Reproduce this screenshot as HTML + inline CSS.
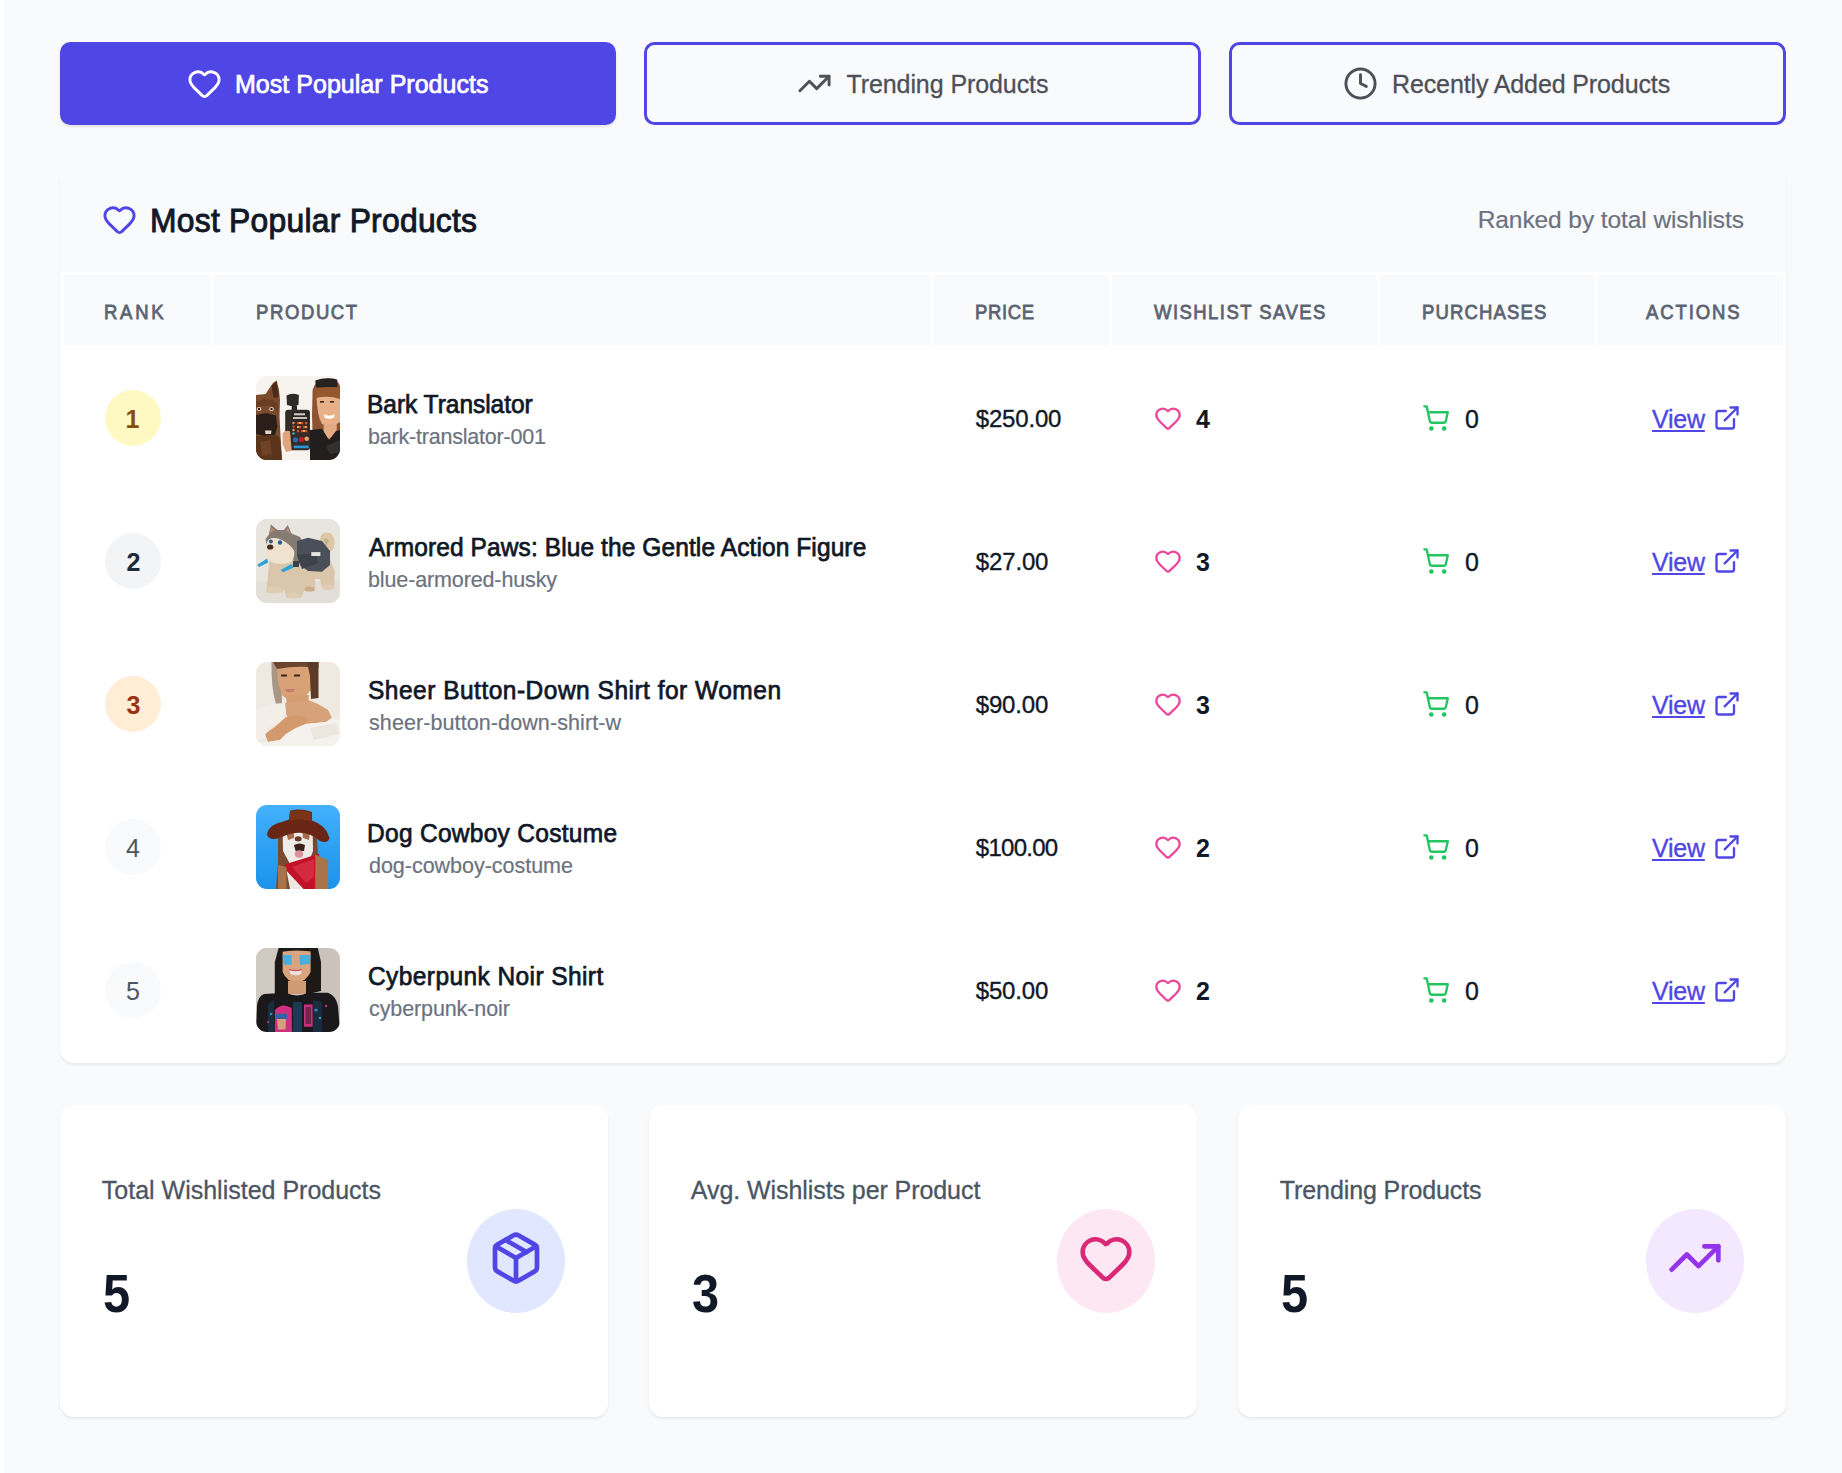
<!DOCTYPE html>
<html><head><meta charset="utf-8"><title>Most Popular Products</title>
<style>
html,body{margin:0;padding:0;}
body{width:1842px;height:1473px;overflow:hidden;position:relative;background:#f9fafb;font-family:"Liberation Sans", sans-serif;}
.b{position:absolute;}
.t{position:absolute;line-height:1;white-space:nowrap;}
.ic{position:absolute;overflow:visible;}
.pimg{position:absolute;overflow:hidden;display:block;}
</style></head><body>
<div class="b" style="left:0px;top:0px;width:4px;height:1473px;background:#fff;"></div>
<div class="b" style="left:60px;top:42px;width:556px;height:83px;background:#4f46e5;border-radius:10.5px;box-shadow:0 2px 3px rgba(0,0,0,0.09);"></div>
<div class="b" style="left:644px;top:42px;width:557px;height:83px;border:3px solid #4f46e5;border-radius:10.5px;box-sizing:border-box;"></div>
<div class="b" style="left:1229px;top:42px;width:557px;height:83px;border:3px solid #4f46e5;border-radius:10.5px;box-sizing:border-box;"></div>
<svg class="ic" style="left:186.5px;top:65.6px;width:35px;height:35px" viewBox="0 0 24 24" fill="none" stroke="#ffffff" stroke-width="2" stroke-linecap="round" stroke-linejoin="round"><path d="M2 9.5a5.5 5.5 0 0 1 9.591-3.676.56.56 0 0 0 .818 0A5.5 5.5 0 0 1 22 9.5c0 2.29-1.5 4-3 5.5l-5.492 5.313a2 2 0 0 1-3 .019L5 15c-1.5-1.5-3-3.2-3-5.5"/></svg>
<svg class="ic" style="left:797px;top:66px;width:35px;height:35px" viewBox="0 0 24 24" fill="none" stroke="#4d5058" stroke-width="2" stroke-linecap="round" stroke-linejoin="round"><polyline points="22 7 13.5 15.5 8.5 10.5 2 17"/><polyline points="16 7 22 7 22 13"/></svg>
<svg class="ic" style="left:1343px;top:65.7px;width:35px;height:35px" viewBox="0 0 24 24" fill="none" stroke="#4d5058" stroke-width="2" stroke-linecap="round" stroke-linejoin="round"><circle cx="12" cy="12" r="10"/><polyline points="12 6 12 12 16 14"/></svg>
<div class="b" style="left:60px;top:167px;width:1726px;height:896px;background:#fff;border-radius:14px;box-shadow:0 2px 3px rgba(0,0,0,0.07);"></div>
<div class="b" style="left:60px;top:167px;width:1726px;height:105px;background:#f9fafb;border-radius:14px 14px 0 0;"></div>
<svg class="ic" style="left:102px;top:201.6px;width:35px;height:35px" viewBox="0 0 24 24" fill="none" stroke="#4f46e5" stroke-width="2" stroke-linecap="round" stroke-linejoin="round"><path d="M2 9.5a5.5 5.5 0 0 1 9.591-3.676.56.56 0 0 0 .818 0A5.5 5.5 0 0 1 22 9.5c0 2.29-1.5 4-3 5.5l-5.492 5.313a2 2 0 0 1-3 .019L5 15c-1.5-1.5-3-3.2-3-5.5"/></svg>
<div class="b" style="left:63px;top:275px;width:148px;height:70px;background:#f9fafb;"></div>
<div class="b" style="left:214px;top:275px;width:716px;height:70px;background:#f9fafb;"></div>
<div class="b" style="left:933px;top:275px;width:176px;height:70px;background:#f9fafb;"></div>
<div class="b" style="left:1112px;top:275px;width:265px;height:70px;background:#f9fafb;"></div>
<div class="b" style="left:1380px;top:275px;width:215px;height:70px;background:#f9fafb;"></div>
<div class="b" style="left:1598px;top:275px;width:185px;height:70px;background:#f9fafb;"></div>
<div class="b" style="left:105px;top:390px;width:56px;height:56px;background:#fef9c3;border-radius:50%;"></div>
<svg class="pimg" style="left:256px;top:376px;width:84px;height:84px;border-radius:11px" viewBox="0 0 84 84" preserveAspectRatio="none"><rect width="84" height="84" fill="#f7f4f0"/>
<path d="M0 19 L9.6 18 L17 7 L20.7 4.5 L23 14 L24 24 L23.5 40 L24.5 60 L26 84 L0 84Z" fill="#7b4a2c"/>
<path d="M15.5 10 L20.5 5 L22.7 21 L17.5 22Z" fill="#4b2a18"/>
<path d="M0 26 L8 23 L16 24 L22 28 L22 36 L16 30 L6 30 L0 33Z" fill="#6a3c22"/>
<ellipse cx="3" cy="33" rx="2.3" ry="2" fill="#e8e0d6"/><ellipse cx="15.5" cy="33" rx="2.3" ry="2" fill="#e8e0d6"/>
<circle cx="3" cy="33" r="1.2" fill="#1a1410"/><circle cx="15.5" cy="33" r="1.2" fill="#1a1410"/>
<path d="M0 39 L10 37 L20 39.6 L21.4 50 L19 59 L8 60 L0 58Z" fill="#2a1e18"/>
<path d="M9 54.6 L15.5 54.6 L15 58 L9.5 58Z" fill="#e6d3c2"/>
<path d="M0 60 L20 59 L24 62 L26 84 L0 84Z" fill="#5b341c"/>
<path d="M4 66 L14 64 L16 78 L6 80Z" fill="#6e4226"/>
<path d="M30.5 19.5 Q36 16.5 42.9 19 L42.5 29 L37 30.5 L31 29Z" fill="#2e2a28"/>
<rect x="35.7" y="29.5" width="5.3" height="6" fill="#2b2725"/>
<rect x="29.2" y="33.8" width="24.8" height="40.4" rx="3" fill="#302c2a"/>
<rect x="35.7" y="35.7" width="17" height="9.2" fill="#2a2624"/>
<rect x="38" y="37.3" width="11" height="2" fill="#d8d0c8"/><rect x="37" y="41" width="14" height="2" fill="#c8beb5"/>
<rect x="36.4" y="44.9" width="16.3" height="14.9" fill="#3a2a26"/>
<g fill="#d8502c"><rect x="41" y="46" width="2.2" height="2.2"/><rect x="45" y="46" width="2.2" height="2.2"/><rect x="49" y="46" width="2.2" height="2.2"/><rect x="43" y="50" width="2.2" height="2.2"/><rect x="47" y="50" width="2.2" height="2.2"/><rect x="41" y="54" width="2.2" height="2.2"/><rect x="45" y="54" width="2.2" height="2.2"/><rect x="49" y="54" width="2.2" height="2.2"/></g>
<g fill="#f0b040"><rect x="43" y="46" width="2" height="2"/><rect x="49" y="50" width="2" height="2"/><rect x="47" y="54" width="2" height="2"/><rect x="41" y="50" width="2" height="2"/></g>
<circle cx="37.5" cy="47" r="1.2" fill="#e89a40"/><circle cx="37.5" cy="50.5" r="1.2" fill="#d04a2a"/><circle cx="37.5" cy="54" r="1.2" fill="#e8a040"/><circle cx="37.5" cy="57.5" r="1.2" fill="#3aa8d8"/>
<circle cx="39.6" cy="63.8" r="2.6" fill="#2a6aa8"/><circle cx="45.5" cy="63.5" r="2.6" fill="#c01f2e"/><circle cx="50.7" cy="62.8" r="2.3" fill="#eea060"/>
<rect x="37.7" y="69.6" width="15" height="2.6" fill="#2a98d6"/>
<path d="M26.6 57 Q30 53.5 34 55.3 L35.7 74.8 L30 76 L26.6 68Z" fill="#e0a47c"/>
<path d="M56.6 14 Q60 2 72 2.5 Q82 3 84 10 L84 72 L57 72 L56 40Z" fill="#8c5331"/>
<path d="M59.2 4.5 Q70 0.5 81.4 3.5 L81.4 11 L60 11.5Z" fill="#262220"/>
<path d="M60.5 20 Q70 17 84 19 L84 46 Q76 52 66 48 Q61 40 60.5 20Z" fill="#e8b088"/>
<path d="M59 13 Q70 10 84 12 L84 23 Q72 19 60 22Z" fill="#94582f"/>
<rect x="64" y="25" width="4" height="1.6" fill="#3a2518"/><rect x="74" y="25" width="4" height="1.6" fill="#3a2518"/>
<path d="M67.7 38.3 Q73 41 78.7 38.3 L78 41.5 Q73 44 68.5 41.5Z" fill="#ffffff"/>
<path d="M67.7 48 L80.7 48 L80.7 62.5 L67.7 62.5Z" fill="#e2ab84"/>
<path d="M54 54 L66 52.7 L73 64 L80 55 L84 54 L84 84 L54 84Z" fill="#221e1d"/>
<path d="M70 70 L84 64 L84 76 L74 78Z" fill="#34302e"/></svg>
<svg class="ic" style="left:1154px;top:404px;width:28px;height:28px" viewBox="0 0 24 24" fill="none" stroke="#ec4899" stroke-width="2" stroke-linecap="round" stroke-linejoin="round"><path d="M2 9.5a5.5 5.5 0 0 1 9.591-3.676.56.56 0 0 0 .818 0A5.5 5.5 0 0 1 22 9.5c0 2.29-1.5 4-3 5.5l-5.492 5.313a2 2 0 0 1-3 .019L5 15c-1.5-1.5-3-3.2-3-5.5"/></svg>
<svg class="ic" style="left:1422px;top:404px;width:28px;height:28px" viewBox="0 0 24 24" fill="none" stroke="#22c55e" stroke-width="2" stroke-linecap="round" stroke-linejoin="round"><circle cx="8" cy="21" r="1"/><circle cx="19" cy="21" r="1"/><path d="M2.05 2.05h2l2.66 12.42a2 2 0 0 0 2 1.58h9.78a2 2 0 0 0 1.95-1.57l1.65-7.43H5.12"/></svg>
<svg class="ic" style="left:1713px;top:403.7px;width:28px;height:28px" viewBox="0 0 24 24" fill="none" stroke="#4f46e5" stroke-width="2" stroke-linecap="round" stroke-linejoin="round"><path d="M15 3h6v6"/><path d="M10 14 21 3"/><path d="M18 13v6a2 2 0 0 1-2 2H5a2 2 0 0 1-2-2V8a2 2 0 0 1 2-2h6"/></svg>
<div class="b" style="left:105px;top:533px;width:56px;height:56px;background:#f3f4f6;border-radius:50%;"></div>
<svg class="pimg" style="left:256px;top:519px;width:84px;height:84px;border-radius:11px" viewBox="0 0 84 84" preserveAspectRatio="none"><rect width="84" height="84" fill="#e8e4de"/>
<rect y="62" width="84" height="22" fill="#e3ded7"/>
<path d="M63.8 22 Q64 13.6 71 13.6 Q78.7 14 78.7 24 Q78 33 72 33 L66 32Z" fill="#dcc8a8"/>
<path d="M67.5 20 Q71 18 73 22 L70 28Z" fill="#c8b08e"/>
<path d="M13.6 40 Q20 33 30 34 L46 33 L74 40 L78.7 52 L78 70 L66.4 70 L64 60 L59 60 L59 72 L48 72 L45 78.7 L30.5 78.7 L28 70 L26.6 73.5 L10.3 73.5 L12 56Z" fill="#dac7ab"/>
<path d="M34 14 L44 18 L50 30 L48 44 L38 44 L36 30Z" fill="#837a72"/>
<ellipse cx="18" cy="71" rx="8" ry="3.5" fill="#e0cdb2"/><ellipse cx="37.5" cy="76.5" rx="7" ry="3" fill="#e0cdb2"/><ellipse cx="72" cy="68" rx="6" ry="3" fill="#e0cdb2"/><ellipse cx="53.5" cy="70" rx="5" ry="2.6" fill="#c9ad8c"/>
<path d="M9.6 20 L12.9 15.5 L14.9 5.4 L21.4 11 L27.9 11 L31.8 6.1 L36.4 16.8 L39.6 26 L38 38 L30 40 L12 38Z" fill="#857b72"/>
<path d="M13.5 14 L15 7.5 L19 11.5Z" fill="#b98878"/><path d="M30 11.5 L31.6 8 L34.5 15Z" fill="#b98878"/>
<path d="M9.6 30 Q10 20 16 19 Q22 18.5 26 21 Q34 25 38.3 32 Q39 40 34 43.5 Q22 47 13 42 Q9 37 9.6 30Z" fill="#efe3d0"/>
<circle cx="14.9" cy="22.5" r="2" fill="#2f6090"/><circle cx="24" cy="23.5" r="2.2" fill="#2f6090"/>
<ellipse cx="14.2" cy="28" rx="3.2" ry="2.6" fill="#4a2c22"/>
<path d="M41 22 L52 18.8 L66 22 L74 32 L74 46 L66 52.7 L52 52 L44 46 L41 36Z" fill="#4a5059"/>
<path d="M41 36 L60 34 L62 44 L46 50Z" fill="#3c424a"/>
<rect x="55.3" y="33.1" width="9.1" height="3.9" fill="#e4e4e4"/>
<path d="M1.2 46 L11 39.6 L12.3 43.5 L3 48Z" fill="#2ba3d4"/><path d="M24.6 51 L35.5 44.9 L37.7 48.5 L27 53.3Z" fill="#2ba3d4"/>
<rect x="37" y="42" width="6" height="6" fill="#3a4048"/></svg>
<svg class="ic" style="left:1154px;top:547px;width:28px;height:28px" viewBox="0 0 24 24" fill="none" stroke="#ec4899" stroke-width="2" stroke-linecap="round" stroke-linejoin="round"><path d="M2 9.5a5.5 5.5 0 0 1 9.591-3.676.56.56 0 0 0 .818 0A5.5 5.5 0 0 1 22 9.5c0 2.29-1.5 4-3 5.5l-5.492 5.313a2 2 0 0 1-3 .019L5 15c-1.5-1.5-3-3.2-3-5.5"/></svg>
<svg class="ic" style="left:1422px;top:547px;width:28px;height:28px" viewBox="0 0 24 24" fill="none" stroke="#22c55e" stroke-width="2" stroke-linecap="round" stroke-linejoin="round"><circle cx="8" cy="21" r="1"/><circle cx="19" cy="21" r="1"/><path d="M2.05 2.05h2l2.66 12.42a2 2 0 0 0 2 1.58h9.78a2 2 0 0 0 1.95-1.57l1.65-7.43H5.12"/></svg>
<svg class="ic" style="left:1713px;top:546.7px;width:28px;height:28px" viewBox="0 0 24 24" fill="none" stroke="#4f46e5" stroke-width="2" stroke-linecap="round" stroke-linejoin="round"><path d="M15 3h6v6"/><path d="M10 14 21 3"/><path d="M18 13v6a2 2 0 0 1-2 2H5a2 2 0 0 1-2-2V8a2 2 0 0 1 2-2h6"/></svg>
<div class="b" style="left:105px;top:676px;width:56px;height:56px;background:#ffedd5;border-radius:50%;"></div>
<svg class="pimg" style="left:256px;top:662px;width:84px;height:84px;border-radius:11px" viewBox="0 0 84 84" preserveAspectRatio="none"><rect width="84" height="84" fill="#efe9e2"/>
<path d="M15.5 0 L25.3 0 L26 42 L20 42 Q15 26 15.5 0Z" fill="#a89686"/>
<path d="M21 2 L55 2 L55 28 L48 36 L33 39 L26 33 L22 20Z" fill="#d8a276"/>
<path d="M17 0 L62.5 0 L62.5 6 Q42 3 21 7Z" fill="#6b4530"/>
<path d="M51 0 L62.5 0 L62.5 36 L55 37 L54 14Z" fill="#5a3a28"/>
<rect x="25" y="12.5" width="6" height="2" fill="#3b2a20"/><rect x="38" y="12.5" width="6" height="2" fill="#3b2a20"/>
<path d="M29 27 L39 27 L37.5 30 L30.5 30Z" fill="#c47e6a"/>
<path d="M30.5 33 L52.7 33 L52.7 49 L30.5 49Z" fill="#d49d72"/>
<path d="M29 41 L52 38 L62 42 L72 48 L76 56 L70 60 L50 62 L36 62 L30 52Z" fill="#d7a27a"/>
<path d="M9 72 L20 64 L30 55 L42 53 L52 56 L50 62 L40 66 L30 72 L24 78 L12 80Z" fill="#d49a6e"/>
<path d="M0 48 L14 42 L29 41 L30 52 L24 60 L12 66 L8 76 L0 80Z" fill="#f3eee8"/>
<path d="M0 80 L12 80 L24 78 L30 72 L40 66 L50 62 L70 60 L76 56 L84 58 L84 84 L0 84Z" fill="#f5f1ec"/>
<path d="M54 66 L80 61 L84 72 L58 78Z" fill="#ece6de"/></svg>
<svg class="ic" style="left:1154px;top:690px;width:28px;height:28px" viewBox="0 0 24 24" fill="none" stroke="#ec4899" stroke-width="2" stroke-linecap="round" stroke-linejoin="round"><path d="M2 9.5a5.5 5.5 0 0 1 9.591-3.676.56.56 0 0 0 .818 0A5.5 5.5 0 0 1 22 9.5c0 2.29-1.5 4-3 5.5l-5.492 5.313a2 2 0 0 1-3 .019L5 15c-1.5-1.5-3-3.2-3-5.5"/></svg>
<svg class="ic" style="left:1422px;top:690px;width:28px;height:28px" viewBox="0 0 24 24" fill="none" stroke="#22c55e" stroke-width="2" stroke-linecap="round" stroke-linejoin="round"><circle cx="8" cy="21" r="1"/><circle cx="19" cy="21" r="1"/><path d="M2.05 2.05h2l2.66 12.42a2 2 0 0 0 2 1.58h9.78a2 2 0 0 0 1.95-1.57l1.65-7.43H5.12"/></svg>
<svg class="ic" style="left:1713px;top:689.7px;width:28px;height:28px" viewBox="0 0 24 24" fill="none" stroke="#4f46e5" stroke-width="2" stroke-linecap="round" stroke-linejoin="round"><path d="M15 3h6v6"/><path d="M10 14 21 3"/><path d="M18 13v6a2 2 0 0 1-2 2H5a2 2 0 0 1-2-2V8a2 2 0 0 1 2-2h6"/></svg>
<div class="b" style="left:105px;top:819px;width:56px;height:56px;background:#f9fafb;border-radius:50%;"></div>
<svg class="pimg" style="left:256px;top:805px;width:84px;height:84px;border-radius:11px" viewBox="0 0 84 84" preserveAspectRatio="none"><defs><linearGradient id="g4" x1="0" y1="0" x2="0" y2="1"><stop offset="0" stop-color="#43b0fb"/><stop offset="1" stop-color="#1a93ec"/></linearGradient></defs>
<rect width="84" height="84" fill="url(#g4)"/>
<path d="M22 28 L60.5 26 L62 50 L66 84 L20 84 L22 56Z" fill="#7a4a2e"/>
<path d="M26.6 22 L56.6 22 L57 46 L52 59 L34 59 L27 46Z" fill="#efebe7"/>
<path d="M30 26 L38 24 L38 33 L32 35Z" fill="#a86c4c"/><path d="M46 24 L54 26 L53 35 L47 33Z" fill="#a86c4c"/>
<ellipse cx="42.2" cy="33.8" rx="3.5" ry="2.6" fill="#6a3a2a"/>
<path d="M38 40 Q43.5 37 49 40 L48 46 L39.6 46Z" fill="#3a2018"/>
<ellipse cx="43" cy="49" rx="4.2" ry="3.8" fill="#d8909a"/>
<path d="M30.5 65.7 L34 84 L52.7 84 L50 66Z" fill="#ece8e4"/>
<path d="M29.2 59.2 L63.1 48.8 L63.1 75.5 L59.2 84 L47.5 84 L30.5 65.7Z" fill="#c2122a"/>
<path d="M36 62 L58 54 L58 72 L50 78Z" fill="#d42a40"/>
<path d="M59.2 49.4 L72.2 55 L72.2 84 L59.2 84Z" fill="#a9744c"/>
<path d="M22 60 L30.5 62 L30.5 84 L22 84Z" fill="#a9744c"/>
<path d="M11 30 Q12 20 26 17 L33 14.5 L34 5.7 Q45 3 56 7 L56 15.5 Q70 20 73.5 33 Q72 39 64 36 Q48 22 26 32 Q14 37 11 30Z" fill="#6a2614"/>
<path d="M34 6.5 Q45 3.5 55.5 8 L55.5 16 Q45 13 34 16Z" fill="#7b3318"/></svg>
<svg class="ic" style="left:1154px;top:833px;width:28px;height:28px" viewBox="0 0 24 24" fill="none" stroke="#ec4899" stroke-width="2" stroke-linecap="round" stroke-linejoin="round"><path d="M2 9.5a5.5 5.5 0 0 1 9.591-3.676.56.56 0 0 0 .818 0A5.5 5.5 0 0 1 22 9.5c0 2.29-1.5 4-3 5.5l-5.492 5.313a2 2 0 0 1-3 .019L5 15c-1.5-1.5-3-3.2-3-5.5"/></svg>
<svg class="ic" style="left:1422px;top:833px;width:28px;height:28px" viewBox="0 0 24 24" fill="none" stroke="#22c55e" stroke-width="2" stroke-linecap="round" stroke-linejoin="round"><circle cx="8" cy="21" r="1"/><circle cx="19" cy="21" r="1"/><path d="M2.05 2.05h2l2.66 12.42a2 2 0 0 0 2 1.58h9.78a2 2 0 0 0 1.95-1.57l1.65-7.43H5.12"/></svg>
<svg class="ic" style="left:1713px;top:832.7px;width:28px;height:28px" viewBox="0 0 24 24" fill="none" stroke="#4f46e5" stroke-width="2" stroke-linecap="round" stroke-linejoin="round"><path d="M15 3h6v6"/><path d="M10 14 21 3"/><path d="M18 13v6a2 2 0 0 1-2 2H5a2 2 0 0 1-2-2V8a2 2 0 0 1 2-2h6"/></svg>
<div class="b" style="left:105px;top:962px;width:56px;height:56px;background:#f9fafb;border-radius:50%;"></div>
<svg class="pimg" style="left:256px;top:948px;width:84px;height:84px;border-radius:11px" viewBox="0 0 84 84" preserveAspectRatio="none"><rect width="84" height="84" fill="#cbc3bb"/>
<rect width="20" height="84" fill="#d1cac3"/>
<path d="M18.8 14 L22.7 0 L61.8 0 L65 14 L65 43 L52 46 L30 46 L30.5 59 L18.8 59Z" fill="#1c1917"/>
<path d="M26.6 3 Q40 0 54.6 3 L54.6 24 Q50 34 40.5 34.4 Q31 34 26.6 24Z" fill="#d9a47e"/>
<path d="M24 0 L60 0 L60 4 Q40 1 24 4Z" fill="#1c1917"/>
<path d="M26.6 7 L35.7 7 L35.7 16.8 L28 16.8Z" fill="#4aaedc"/><path d="M43.5 7 L54.6 7 L53.5 16 L44 16.8Z" fill="#4aaedc"/>
<path d="M33 21.4 Q40 25 46 21.4 L45 26 Q40 28.5 34.5 26Z" fill="#f0e4de"/>
<path d="M33 21 Q40 23 46 21 L46 22.3 Q40 24 33 22.3Z" fill="#c8506a"/>
<path d="M32 33 L50 33 L50 46 L32 46Z" fill="#d09a76"/>
<path d="M0 84 L1 58 Q2 48 8 46 L30 44.8 Q41 50 52 44.8 L72 44.8 Q80 48 82 58 L84 84Z" fill="#1a181a"/>
<path d="M18.8 84 L19 62 Q26 54 35.7 60 L36 84Z" fill="#cf2f7e"/>
<path d="M20 65.7 L31 65.7 L31 71 L20 71Z" fill="#3262a8"/>
<path d="M21 71 L30 71 L29.5 81.4 L22 81.4Z" fill="#d6a07c"/>
<path d="M48 56.6 L56.6 56.6 L56.6 78.7 L48 78.7Z" fill="#c8327d"/>
<path d="M49.5 59 L55 59 L55 76 L49.5 76Z" fill="#1a181a" opacity="0.5"/>
<path d="M37 54 L46 54 L46 84 L37 84Z" fill="#1f4f7a" opacity="0.6"/>
<path d="M12 56 L18 52 L18 84 L12 84Z" fill="#1b3a58" opacity="0.6"/><path d="M57 52 L66 54 L66 84 L57 84Z" fill="#1b3a58" opacity="0.6"/>
<circle cx="60" cy="62" r="1.6" fill="#2e8cc8"/><circle cx="64" cy="70" r="1.3" fill="#2e8cc8"/><circle cx="15" cy="66" r="1.3" fill="#2e8cc8"/><circle cx="70" cy="58" r="1.3" fill="#b03070"/><circle cx="12" cy="74" r="1.2" fill="#b03070"/></svg>
<svg class="ic" style="left:1154px;top:976px;width:28px;height:28px" viewBox="0 0 24 24" fill="none" stroke="#ec4899" stroke-width="2" stroke-linecap="round" stroke-linejoin="round"><path d="M2 9.5a5.5 5.5 0 0 1 9.591-3.676.56.56 0 0 0 .818 0A5.5 5.5 0 0 1 22 9.5c0 2.29-1.5 4-3 5.5l-5.492 5.313a2 2 0 0 1-3 .019L5 15c-1.5-1.5-3-3.2-3-5.5"/></svg>
<svg class="ic" style="left:1422px;top:976px;width:28px;height:28px" viewBox="0 0 24 24" fill="none" stroke="#22c55e" stroke-width="2" stroke-linecap="round" stroke-linejoin="round"><circle cx="8" cy="21" r="1"/><circle cx="19" cy="21" r="1"/><path d="M2.05 2.05h2l2.66 12.42a2 2 0 0 0 2 1.58h9.78a2 2 0 0 0 1.95-1.57l1.65-7.43H5.12"/></svg>
<svg class="ic" style="left:1713px;top:975.7px;width:28px;height:28px" viewBox="0 0 24 24" fill="none" stroke="#4f46e5" stroke-width="2" stroke-linecap="round" stroke-linejoin="round"><path d="M15 3h6v6"/><path d="M10 14 21 3"/><path d="M18 13v6a2 2 0 0 1-2 2H5a2 2 0 0 1-2-2V8a2 2 0 0 1 2-2h6"/></svg>
<div class="b" style="left:60px;top:1105px;width:548px;height:312px;background:#fff;border-radius:14px;box-shadow:0 2px 3px rgba(0,0,0,0.07);"></div>
<div class="b" style="left:467px;top:1209px;width:98px;height:104px;background:#e0e7ff;border-radius:50%;"></div>
<svg class="ic" style="left:488px;top:1230px;width:56px;height:56px" viewBox="0 0 24 24" fill="none" stroke="#4f46e5" stroke-width="2" stroke-linecap="round" stroke-linejoin="round"><path d="m7.5 4.27 9 5.15"/><path d="M21 8a2 2 0 0 0-1-1.73l-7-4a2 2 0 0 0-2 0l-7 4A2 2 0 0 0 3 8v8a2 2 0 0 0 1 1.73l7 4a2 2 0 0 0 2 0l7-4A2 2 0 0 0 21 16Z"/><path d="m3.3 7 8.7 5 8.7-5"/><path d="M12 22V12"/></svg>
<div class="b" style="left:649px;top:1105px;width:548px;height:312px;background:#fff;border-radius:14px;box-shadow:0 2px 3px rgba(0,0,0,0.07);"></div>
<div class="b" style="left:1057px;top:1209px;width:98px;height:104px;background:#fce7f3;border-radius:50%;"></div>
<svg class="ic" style="left:1078px;top:1230px;width:56px;height:56px" viewBox="0 0 24 24" fill="none" stroke="#db2777" stroke-width="2" stroke-linecap="round" stroke-linejoin="round"><path d="M2 9.5a5.5 5.5 0 0 1 9.591-3.676.56.56 0 0 0 .818 0A5.5 5.5 0 0 1 22 9.5c0 2.29-1.5 4-3 5.5l-5.492 5.313a2 2 0 0 1-3 .019L5 15c-1.5-1.5-3-3.2-3-5.5"/></svg>
<div class="b" style="left:1238px;top:1105px;width:548px;height:312px;background:#fff;border-radius:14px;box-shadow:0 2px 3px rgba(0,0,0,0.07);"></div>
<div class="b" style="left:1646px;top:1209px;width:98px;height:104px;background:#f3e8ff;border-radius:50%;"></div>
<svg class="ic" style="left:1667px;top:1230px;width:56px;height:56px" viewBox="0 0 24 24" fill="none" stroke="#9333ea" stroke-width="2" stroke-linecap="round" stroke-linejoin="round"><polyline points="22 7 13.5 15.5 8.5 10.5 2 17"/><polyline points="16 7 22 7 22 13"/></svg>
<div class="t" style="left:235.00px;top:71.64px;font-size:25px;font-weight:400;color:#ffffff;letter-spacing:0.030px;-webkit-text-stroke:0.7px #fff;">Most Popular Products</div>
<div class="t" style="left:846.40px;top:71.64px;font-size:25px;font-weight:400;color:#4d5058;letter-spacing:-0.078px;-webkit-text-stroke:0.3px #4d5058;">Trending Products</div>
<div class="t" style="left:1392.00px;top:71.64px;font-size:25px;font-weight:400;color:#4d5058;letter-spacing:-0.118px;-webkit-text-stroke:0.3px #4d5058;">Recently Added Products</div>
<div class="t" style="left:149.80px;top:204.34px;font-size:33.5px;font-weight:400;color:#111827;letter-spacing:0.267px;transform:scaleX(0.95);transform-origin:0 0;-webkit-text-stroke:0.95px #111827;">Most Popular Products</div>
<div class="t" style="left:1477.70px;top:207.76px;font-size:24.5px;font-weight:400;color:#6b7280;letter-spacing:-0.084px;-webkit-text-stroke:0.2px #6b7280;">Ranked by total wishlists</div>
<div class="t" style="left:104.22px;top:301.42px;font-size:21px;font-weight:400;color:#5b6473;letter-spacing:3.122px;transform:scaleX(0.88);transform-origin:0 0;-webkit-text-stroke:0.85px #5b6473;">RANK</div>
<div class="t" style="left:256.12px;top:301.42px;font-size:21px;font-weight:400;color:#5b6473;letter-spacing:1.848px;transform:scaleX(0.88);transform-origin:0 0;-webkit-text-stroke:0.85px #5b6473;">PRODUCT</div>
<div class="t" style="left:974.82px;top:301.42px;font-size:21px;font-weight:400;color:#5b6473;letter-spacing:0.713px;transform:scaleX(0.88);transform-origin:0 0;-webkit-text-stroke:0.85px #5b6473;">PRICE</div>
<div class="t" style="left:1154.00px;top:301.42px;font-size:21px;font-weight:400;color:#5b6473;letter-spacing:1.664px;transform:scaleX(0.88);transform-origin:0 0;-webkit-text-stroke:0.85px #5b6473;">WISHLIST SAVES</div>
<div class="t" style="left:1421.72px;top:301.42px;font-size:21px;font-weight:400;color:#5b6473;letter-spacing:1.317px;transform:scaleX(0.88);transform-origin:0 0;-webkit-text-stroke:0.85px #5b6473;">PURCHASES</div>
<div class="t" style="left:1646.40px;top:301.42px;font-size:21px;font-weight:400;color:#5b6473;letter-spacing:2.172px;transform:scaleX(0.88);transform-origin:0 0;-webkit-text-stroke:0.85px #5b6473;">ACTIONS</div>
<div class="t" style="left:125.50px;top:406.84px;font-size:25px;font-weight:700;color:#854d0e;">1</div>
<div class="t" style="left:367.10px;top:392.36px;font-size:25.8px;font-weight:400;color:#111827;letter-spacing:-0.030px;transform:scaleX(0.95);transform-origin:0 0;-webkit-text-stroke:0.75px #111827;">Bark Translator</div>
<div class="t" style="left:368.00px;top:426.80px;font-size:21.5px;font-weight:400;color:#6b7280;letter-spacing:-0.204px;-webkit-text-stroke:0.2px #6b7280;">bark-translator-001</div>
<div class="t" style="left:975.80px;top:407.18px;font-size:24px;font-weight:400;color:#111827;letter-spacing:-0.184px;-webkit-text-stroke:0.35px #111827;">$250.00</div>
<div class="t" style="left:1196.00px;top:406.84px;font-size:25px;font-weight:700;color:#111827;">4</div>
<div class="t" style="left:1465.00px;top:406.54px;font-size:25px;font-weight:400;color:#111827;-webkit-text-stroke:0.35px #111827;">0</div>
<div class="t" style="left:1652.00px;top:406.84px;font-size:25px;font-weight:400;color:#4f46e5;letter-spacing:-0.227px;-webkit-text-stroke:0.35px #4f46e5;text-decoration:underline;text-decoration-thickness:2px;text-underline-offset:2px;">View</div>
<div class="t" style="left:126.50px;top:549.84px;font-size:25px;font-weight:700;color:#1e293b;">2</div>
<div class="t" style="left:369.00px;top:535.36px;font-size:25.8px;font-weight:400;color:#111827;letter-spacing:0.104px;transform:scaleX(0.95);transform-origin:0 0;-webkit-text-stroke:0.75px #111827;">Armored Paws: Blue the Gentle Action Figure</div>
<div class="t" style="left:368.00px;top:569.80px;font-size:21.5px;font-weight:400;color:#6b7280;letter-spacing:-0.126px;-webkit-text-stroke:0.2px #6b7280;">blue-armored-husky</div>
<div class="t" style="left:975.80px;top:550.18px;font-size:24px;font-weight:400;color:#111827;letter-spacing:-0.152px;-webkit-text-stroke:0.35px #111827;">$27.00</div>
<div class="t" style="left:1196.00px;top:549.84px;font-size:25px;font-weight:700;color:#111827;">3</div>
<div class="t" style="left:1465.00px;top:549.54px;font-size:25px;font-weight:400;color:#111827;-webkit-text-stroke:0.35px #111827;">0</div>
<div class="t" style="left:1652.00px;top:549.84px;font-size:25px;font-weight:400;color:#4f46e5;letter-spacing:-0.227px;-webkit-text-stroke:0.35px #4f46e5;text-decoration:underline;text-decoration-thickness:2px;text-underline-offset:2px;">View</div>
<div class="t" style="left:126.50px;top:692.84px;font-size:25px;font-weight:700;color:#9a3412;">3</div>
<div class="t" style="left:368.05px;top:678.36px;font-size:25.8px;font-weight:400;color:#111827;letter-spacing:0.518px;transform:scaleX(0.95);transform-origin:0 0;-webkit-text-stroke:0.75px #111827;">Sheer Button-Down Shirt for Women</div>
<div class="t" style="left:369.00px;top:712.80px;font-size:21.5px;font-weight:400;color:#6b7280;letter-spacing:0.095px;-webkit-text-stroke:0.2px #6b7280;">sheer-button-down-shirt-w</div>
<div class="t" style="left:975.80px;top:693.18px;font-size:24px;font-weight:400;color:#111827;letter-spacing:-0.192px;-webkit-text-stroke:0.35px #111827;">$90.00</div>
<div class="t" style="left:1196.00px;top:692.84px;font-size:25px;font-weight:700;color:#111827;">3</div>
<div class="t" style="left:1465.00px;top:692.54px;font-size:25px;font-weight:400;color:#111827;-webkit-text-stroke:0.35px #111827;">0</div>
<div class="t" style="left:1652.00px;top:692.84px;font-size:25px;font-weight:400;color:#4f46e5;letter-spacing:-0.227px;-webkit-text-stroke:0.35px #4f46e5;text-decoration:underline;text-decoration-thickness:2px;text-underline-offset:2px;">View</div>
<div class="t" style="left:126.00px;top:835.84px;font-size:25px;font-weight:400;color:#4b5563;">4</div>
<div class="t" style="left:367.10px;top:821.36px;font-size:25.8px;font-weight:400;color:#111827;letter-spacing:0.300px;transform:scaleX(0.95);transform-origin:0 0;-webkit-text-stroke:0.75px #111827;">Dog Cowboy Costume</div>
<div class="t" style="left:369.00px;top:855.80px;font-size:21.5px;font-weight:400;color:#6b7280;letter-spacing:-0.023px;-webkit-text-stroke:0.2px #6b7280;">dog-cowboy-costume</div>
<div class="t" style="left:975.80px;top:836.18px;font-size:24px;font-weight:400;color:#111827;letter-spacing:-0.734px;-webkit-text-stroke:0.35px #111827;">$100.00</div>
<div class="t" style="left:1196.00px;top:835.84px;font-size:25px;font-weight:700;color:#111827;">2</div>
<div class="t" style="left:1465.00px;top:835.54px;font-size:25px;font-weight:400;color:#111827;-webkit-text-stroke:0.35px #111827;">0</div>
<div class="t" style="left:1652.00px;top:835.84px;font-size:25px;font-weight:400;color:#4f46e5;letter-spacing:-0.227px;-webkit-text-stroke:0.35px #4f46e5;text-decoration:underline;text-decoration-thickness:2px;text-underline-offset:2px;">View</div>
<div class="t" style="left:126.00px;top:978.84px;font-size:25px;font-weight:400;color:#4b5563;">5</div>
<div class="t" style="left:368.05px;top:964.36px;font-size:25.8px;font-weight:400;color:#111827;letter-spacing:0.430px;transform:scaleX(0.95);transform-origin:0 0;-webkit-text-stroke:0.75px #111827;">Cyberpunk Noir Shirt</div>
<div class="t" style="left:369.00px;top:998.80px;font-size:21.5px;font-weight:400;color:#6b7280;letter-spacing:-0.104px;-webkit-text-stroke:0.2px #6b7280;">cyberpunk-noir</div>
<div class="t" style="left:975.80px;top:979.18px;font-size:24px;font-weight:400;color:#111827;letter-spacing:-0.192px;-webkit-text-stroke:0.35px #111827;">$50.00</div>
<div class="t" style="left:1196.00px;top:978.84px;font-size:25px;font-weight:700;color:#111827;">2</div>
<div class="t" style="left:1465.00px;top:978.54px;font-size:25px;font-weight:400;color:#111827;-webkit-text-stroke:0.35px #111827;">0</div>
<div class="t" style="left:1652.00px;top:978.84px;font-size:25px;font-weight:400;color:#4f46e5;letter-spacing:-0.227px;-webkit-text-stroke:0.35px #4f46e5;text-decoration:underline;text-decoration-thickness:2px;text-underline-offset:2px;">View</div>
<div class="t" style="left:101.80px;top:1177.54px;font-size:25px;font-weight:400;color:#4b5563;-webkit-text-stroke:0.3px #4b5563;">Total Wishlisted Products</div>
<div class="t" style="left:103.08px;top:1266.54px;font-size:53px;font-weight:700;color:#111827;transform:scaleX(0.92);transform-origin:0 0;">5</div>
<div class="t" style="left:690.80px;top:1177.54px;font-size:25px;font-weight:400;color:#4b5563;letter-spacing:-0.071px;-webkit-text-stroke:0.3px #4b5563;">Avg. Wishlists per Product</div>
<div class="t" style="left:692.08px;top:1266.54px;font-size:53px;font-weight:700;color:#111827;transform:scaleX(0.92);transform-origin:0 0;">3</div>
<div class="t" style="left:1279.80px;top:1177.54px;font-size:25px;font-weight:400;color:#4b5563;letter-spacing:-0.097px;-webkit-text-stroke:0.3px #4b5563;">Trending Products</div>
<div class="t" style="left:1281.08px;top:1266.54px;font-size:53px;font-weight:700;color:#111827;transform:scaleX(0.92);transform-origin:0 0;">5</div>
</body></html>
